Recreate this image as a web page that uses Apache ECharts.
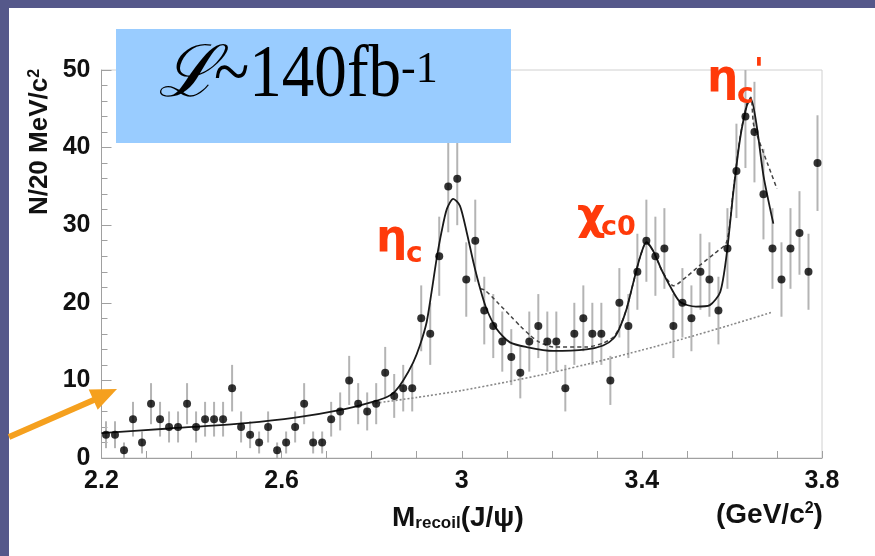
<!DOCTYPE html>
<html><head><meta charset="utf-8">
<script src="https://cdn.jsdelivr.net/npm/echarts@6/dist/echarts.min.js"></script>
<style>
html,body{margin:0;padding:0;overflow:hidden;background:#fff;}
#wrap{position:relative;width:875px;height:556px;background:#fff;overflow:hidden;}
#topband{position:absolute;left:0;top:0;width:875px;height:8px;background:#55588a;}
#leftband{position:absolute;left:0;top:0;width:9px;height:556px;background:#55588a;}
#c{position:absolute;left:0;top:0;width:875px;height:556px;}
</style>
</head><body><div id="wrap"><div id="topband"></div><div id="leftband"></div><div id="c"></div></div>
<script>
// bin centres (GeV/c^2), 20 MeV bins
const mass = [2.21,2.23,2.25,2.27,2.29,2.31,2.33,2.35,2.37,2.39,
  2.41,2.43,2.45,2.47,2.49,2.51,2.53,2.55,2.57,2.59,
  2.61,2.63,2.65,2.67,2.69,2.71,2.73,2.75,2.77,2.79,
  2.81,2.83,2.85,2.87,2.89,2.91,2.93,2.95,2.97,2.99,
  3.01,3.03,3.05,3.07,3.09,3.11,3.13,3.15,3.17,3.19,
  3.21,3.23,3.25,3.27,3.29,3.31,3.33,3.35,3.37,3.39,
  3.41,3.43,3.45,3.47,3.49,3.51,3.53,3.55,3.57,3.59,
  3.61,3.63,3.65,3.67,3.69,3.71,3.73,3.75,3.77,3.79];
const counts = [3,3,1,5,2,7,5,4,4,7,
  4,5,5,5,9,4,3,2,4,1,
  2,4,7,2,2,5,6,10,7,6,
  7,11,8,9,9,18,16,26,35,36,
  23,28,19,17,15,13,11,15,17,15,
  15,9,16,18,16,16,10,20,17,24,
  28,26,27,17,20,18,24,23,19,27,
  37,44,42,34,27,23,27,29,24,38];
// full fit (solid)
const fitMass = [2.20,2.35,2.52,2.63,2.74,2.80,2.835,2.852,2.870,2.892,2.907,2.922,2.933,2.944,2.955,2.967,2.981,2.996,3.011,3.026,3.041,3.055,3.078,3.107,3.144,3.203,3.277,3.314,3.337,3.351,3.366,3.381,3.396,3.410,3.425,3.444,3.462,3.485,3.52,3.551,3.574,3.588,3.603,3.618,3.633,3.642,3.655,3.670,3.692];
const fitValues = [3.2,3.8,4.5,5.2,6.3,7.2,7.9,8.6,10.0,12.3,14.5,17.5,21.4,25.6,29.1,32.1,33.4,32.5,29.1,25.2,21.8,19.2,16.6,14.9,14.3,13.8,14.0,14.5,15.4,16.8,19.2,22.6,25.9,27.8,26.7,24.2,22.2,20.1,19.5,19.7,21.4,26.1,34.2,41.1,45.4,46.3,42.8,36.4,30.2];
// alternative fit (dashed)
const altMass = [3.041,3.052,3.08,3.11,3.13,3.152,3.17,3.203,3.277,3.314,3.337,3.351,3.366,3.381,3.396,3.410,3.425,3.444,3.459,3.47,3.50,3.53,3.56,3.588,3.603,3.618,3.633,3.642,3.648,3.66,3.68,3.70];
const altValues = [21.8,21.6,20.0,18.2,17.0,15.8,15.0,14.3,14.3,14.8,15.6,16.9,19.2,22.6,25.9,27.8,26.7,24.2,22.8,22.2,23.4,24.9,26.3,27.8,34.5,41.3,45.6,46.5,43.0,40.9,37.8,34.7];
// background (dotted)
const bkgMass = [2.80,2.90,3.00,3.10,3.20,3.30,3.40,3.50,3.60,3.69];
const bkgValues = [7.0,7.8,8.7,9.8,11.0,12.4,13.9,15.5,17.2,18.8];
// axis labels
const xLabelValues = [2.2,2.6,3.0,3.4,3.8];
const xLabelTexts = ['2.2','2.6','3','3.4','3.8'];

const chart = echarts.init(document.getElementById('c'));
const sans = 'Liberation Sans, Arial, sans-serif';
const tickFont = {color:'#111', fontSize:25, fontWeight:'bold', fontFamily:sans};
const red = '#ff3a0a';
const orange = '#f5a01e';
const serif = 'Liberation Serif, Times New Roman, serif';
const shadow = {textShadowColor:'#fff', textShadowOffsetX:3, textShadowOffsetY:3};

function pairs(xs, ys){ return xs.map((x,i)=>[x, ys[i]]); }

const option = {
  animation:false,
  grid:{left:101.5, right:53, top:70, bottom:98, show:true, borderColor:'#d0d0d0', borderWidth:1},
  xAxis:{type:'value', min:2.2, max:3.8, interval:0.2,
    axisLine:{show:true, onZero:false, lineStyle:{color:'#a0a0a0', width:1}},
    axisTick:{show:true, inside:true, length:7, lineStyle:{color:'#a0a0a0'}},
    minorTick:{show:true, splitNumber:2, length:7, lineStyle:{color:'#a0a0a0'}},
    splitLine:{show:false},
    axisLabel:Object.assign({margin:11, formatter:function(v){
      for (let i=0;i<xLabelValues.length;i++) if (Math.abs(v-xLabelValues[i])<1e-6) return xLabelTexts[i];
      return '';
    }}, tickFont)
  },
  yAxis:{type:'value', min:0, max:50, interval:10,
    axisLine:{show:true, onZero:false, lineStyle:{color:'#a0a0a0', width:1}},
    axisTick:{show:true, inside:true, length:10, lineStyle:{color:'#a0a0a0'}},
    minorTick:{show:true, splitNumber:5, length:6, lineStyle:{color:'#a0a0a0'}},
    splitLine:{show:false},
    axisLabel:Object.assign({margin:11}, tickFont)
  },
  series:[
    {type:'custom', z:1, clip:true,
     data: mass.map((m,i)=>[m, counts[i]-Math.sqrt(counts[i]), counts[i]+Math.sqrt(counts[i])]),
     encode:{x:0, y:[1,2]},
     renderItem:function(params, api){
       const a = api.coord([api.value(0), api.value(1)]);
       const b = api.coord([api.value(0), api.value(2)]);
       return {type:'line', shape:{x1:a[0], y1:a[1], x2:b[0], y2:b[1]}, style:{stroke:'#b4b4b4', lineWidth:2}};
     }},
    {type:'line', z:2, data:pairs(bkgMass,bkgValues), showSymbol:false, smooth:0.2,
     lineStyle:{color:'#888', width:1.6, type:[2,2]}},
    {type:'line', z:3, data:pairs(altMass,altValues), showSymbol:false, smooth:0.25,
     lineStyle:{color:'#444', width:1.5, type:[4,3]}},
    {type:'line', z:4, data:pairs(fitMass,fitValues), showSymbol:false, smooth:0.25,
     lineStyle:{color:'#1a1a1a', width:1.8}},
    {type:'scatter', z:5, data:pairs(mass,counts), symbol:'circle', symbolSize:8,
     itemStyle:{color:'#000'}}
  ],
  graphic:[
    // luminosity box
    {type:'rect', z:100, shape:{x:116, y:29, width:395, height:114}, style:{fill:'#99ccff'}},
    {type:'text', z:101, x:158, y:77, style:Object.assign({text:'\u2112', font:'italic 72px DejaVu Serif', fill:'#000', verticalAlign:'middle'}, shadow)},
    {type:'text', z:101, x:214, y:77, scaleX:0.88, style:Object.assign({text:'~140fb', font:'74px ' + serif, fill:'#000', verticalAlign:'middle'}, shadow)},
    {type:'text', z:101, x:401, y:70, style:Object.assign({text:'-1', font:'44px ' + serif, fill:'#000', verticalAlign:'middle'}, shadow)},
    // arrow
    {type:'line', z:100, shape:{x1:9, y1:437, x2:96, y2:399}, style:{stroke:orange, lineWidth:6}},
    {type:'polygon', z:100, shape:{points:[[117,389],[88.7,389.5],[97.7,409.7]]}, style:{fill:orange}},
    // peak labels
    {type:'text', z:100, x:376, y:240, style:{text:'\u03b7', font:'bold 44px DejaVu Sans', fill:red, verticalAlign:'middle'}},
    {type:'text', z:100, x:406, y:255, style:{text:'c', font:'bold 28px DejaVu Sans', fill:red, verticalAlign:'middle'}},
    {type:'text', z:100, x:577, y:218, style:{text:'\u03c7', font:'bold 44px DejaVu Sans', fill:red, verticalAlign:'middle'}},
    {type:'text', z:100, x:601, y:228, style:{text:'c0', font:'bold 27px DejaVu Sans', fill:red, verticalAlign:'middle'}},
    {type:'text', z:100, x:707, y:80, style:{text:'\u03b7', font:'bold 44px DejaVu Sans', fill:red, verticalAlign:'middle'}},
    {type:'text', z:100, x:737, y:96, style:{text:'c', font:'bold 28px DejaVu Sans', fill:red, verticalAlign:'middle'}},
    {type:'text', z:100, x:754, y:72, style:{text:"'", font:'bold 32px DejaVu Sans', fill:red, verticalAlign:'middle'}},
    // axis titles
    {type:'text', z:100, x:392, y:518, style:{
      text:'{m|M}{s|recoil}{m|(J/\u03c8)}', verticalAlign:'middle', fill:'#111',
      rich:{m:{fontFamily:sans, fontWeight:'bold', fontSize:28, fill:'#111', verticalAlign:'middle'},
            s:{fontFamily:sans, fontWeight:'bold', fontSize:17, fill:'#111', verticalAlign:'bottom', padding:[10,0,0,0]}}}},
    {type:'text', z:100, x:716, y:515, style:{
      text:'{m|(GeV/c}{p|2}{m|)}', verticalAlign:'middle', fill:'#111',
      rich:{m:{fontFamily:sans, fontWeight:'bold', fontSize:28, fill:'#111', verticalAlign:'middle'},
            p:{fontFamily:sans, fontWeight:'bold', fontSize:16, fill:'#111', verticalAlign:'top', padding:[0,0,10,0]}}}},
    {type:'text', z:100, x:40, y:142, rotation:Math.PI/2, style:{
      text:'{m|N/20 MeV/c}{p|2}', align:'center', verticalAlign:'middle', fill:'#111',
      rich:{m:{fontFamily:sans, fontWeight:'bold', fontSize:26, fill:'#111', verticalAlign:'middle'},
            p:{fontFamily:sans, fontWeight:'bold', fontSize:16, fill:'#111', verticalAlign:'top', padding:[0,0,10,0]}}}}
  ]
};
chart.setOption(option);
</script>
</body></html>
